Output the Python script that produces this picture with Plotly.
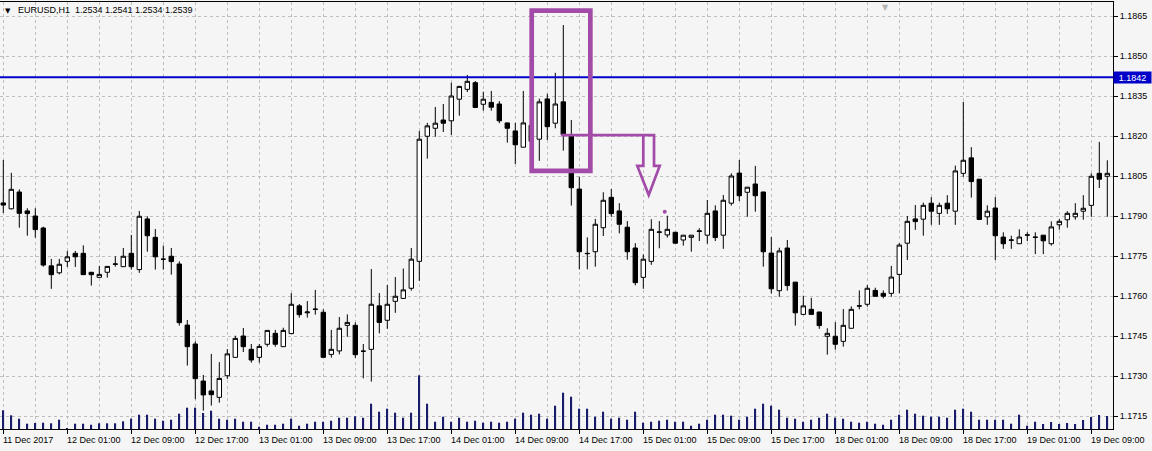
import plotly.graph_objects as go

# ---------------- data (EURUSD H1) ----------------
BAR_INDEX = list(range(139))

OPEN = [1.17949, 1.17927, 1.17990, 1.17919, 1.17900, 1.17855, 1.17713, 1.17687, 1.17730, 1.17760,
        1.17760, 1.17689, 1.17670, 1.17689, 1.17719, 1.17710, 1.17760, 1.17699, 1.17889, 1.17820,
        1.17738, 1.17749, 1.17720, 1.17491, 1.17420, 1.17281, 1.17244, 1.17220, 1.17301, 1.17370,
        1.17450, 1.17400, 1.17370, 1.17419, 1.17460, 1.17410, 1.17459, 1.17563, 1.17537, 1.17551,
        1.17539, 1.17381, 1.17394, 1.17490, 1.17490, 1.17393, 1.17400, 1.17563, 1.17509, 1.17580,
        1.17591, 1.17629, 1.17730, 1.18199, 1.18229, 1.18260, 1.18257, 1.18338, 1.18375, 1.18400,
        1.18319, 1.18326, 1.18320, 1.18249, 1.18219, 1.18158, 1.18240, 1.18188, 1.18339, 1.18248,
        1.18328, 1.18204, 1.18001, 1.17760, 1.17766, 1.17856, 1.17970, 1.17919, 1.17858, 1.17780,
        1.17670, 1.17730, 1.17839, 1.17829, 1.17839, 1.17810, 1.17820, 1.17842, 1.17828, 1.17919,
        1.17828, 1.17948, 1.18061, 1.17989, 1.18020, 1.17990, 1.17761, 1.17620, 1.17780, 1.17652,
        1.17531, 1.17550, 1.17540, 1.17449, 1.17449, 1.17430, 1.17479, 1.17562, 1.17569, 1.17621,
        1.17610, 1.17610, 1.17681, 1.17798, 1.17889, 1.17888, 1.17948, 1.17910, 1.17948, 1.17918,
        1.18060, 1.18118, 1.18038, 1.17897, 1.17930, 1.17821, 1.17809, 1.17796, 1.17828, 1.17821,
        1.17828, 1.17796, 1.17867, 1.17886, 1.17897, 1.17918, 1.17940, 1.18060, 1.18049]

HIGH = [1.18110, 1.18062, 1.18000, 1.17929, 1.17929, 1.17860, 1.17739, 1.17739, 1.17769, 1.17769,
        1.17790, 1.17690, 1.17713, 1.17711, 1.17749, 1.17780, 1.17829, 1.17919, 1.17899, 1.17851,
        1.17789, 1.17780, 1.17730, 1.17510, 1.17430, 1.17304, 1.17383, 1.17352, 1.17401, 1.17451,
        1.17480, 1.17420, 1.17420, 1.17471, 1.17473, 1.17481, 1.17611, 1.17570, 1.17581, 1.17623,
        1.17550, 1.17473, 1.17521, 1.17531, 1.17501, 1.17420, 1.17701, 1.17611, 1.17641, 1.17671,
        1.17703, 1.17780, 1.18219, 1.18249, 1.18309, 1.18320, 1.18400, 1.18388, 1.18429, 1.18406,
        1.18366, 1.18369, 1.18331, 1.18250, 1.18249, 1.18369, 1.18270, 1.18340, 1.18358, 1.18437,
        1.18616, 1.18260, 1.18047, 1.17820, 1.17889, 1.17989, 1.18001, 1.17948, 1.17881, 1.17798,
        1.17756, 1.17888, 1.17881, 1.17901, 1.17840, 1.17828, 1.17828, 1.17854, 1.17960, 1.17940,
        1.17979, 1.18060, 1.18110, 1.18008, 1.18088, 1.17991, 1.17821, 1.17781, 1.17810, 1.17653,
        1.17601, 1.17593, 1.17541, 1.17479, 1.17502, 1.17551, 1.17561, 1.17621, 1.17641, 1.17631,
        1.17621, 1.17713, 1.17798, 1.17900, 1.17941, 1.17950, 1.17971, 1.17950, 1.17978, 1.18089,
        1.18328, 1.18158, 1.18039, 1.17940, 1.17971, 1.17839, 1.17826, 1.17850, 1.17839, 1.17839,
        1.17829, 1.17880, 1.17888, 1.17918, 1.17948, 1.17978, 1.18060, 1.18178, 1.18109]

LOW = [1.17911, 1.17925, 1.17856, 1.17826, 1.17819, 1.17710, 1.17627, 1.17681, 1.17709, 1.17709,
       1.17679, 1.17639, 1.17669, 1.17669, 1.17710, 1.17709, 1.17699, 1.17687, 1.17766, 1.17699,
       1.17699, 1.17680, 1.17489, 1.17339, 1.17213, 1.17170, 1.17189, 1.17200, 1.17289, 1.17369,
       1.17390, 1.17350, 1.17350, 1.17410, 1.17410, 1.17409, 1.17458, 1.17519, 1.17519, 1.17530,
       1.17369, 1.17369, 1.17381, 1.17447, 1.17368, 1.17291, 1.17279, 1.17460, 1.17477, 1.17537,
       1.17590, 1.17620, 1.17657, 1.18115, 1.18197, 1.18215, 1.18204, 1.18276, 1.18365, 1.18306,
       1.18295, 1.18295, 1.18248, 1.18175, 1.18095, 1.18157, 1.18140, 1.18107, 1.18185, 1.18229,
       1.18145, 1.17939, 1.17700, 1.17700, 1.17710, 1.17825, 1.17897, 1.17835, 1.17736, 1.17640,
       1.17627, 1.17717, 1.17779, 1.17819, 1.17797, 1.17789, 1.17766, 1.17806, 1.17796, 1.17806,
       1.17777, 1.17939, 1.17956, 1.17897, 1.17916, 1.17710, 1.17609, 1.17597, 1.17620, 1.17489,
       1.17530, 1.17530, 1.17477, 1.17380, 1.17399, 1.17410, 1.17478, 1.17550, 1.17560, 1.17598,
       1.17591, 1.17597, 1.17610, 1.17735, 1.17848, 1.17826, 1.17867, 1.17867, 1.17908, 1.17867,
       1.18047, 1.17969, 1.17886, 1.17867, 1.17735, 1.17777, 1.17777, 1.17795, 1.17806, 1.17757,
       1.17757, 1.17789, 1.17849, 1.17856, 1.17886, 1.17886, 1.17897, 1.18005, 1.17897]

CLOSE = [1.17941, 1.18000, 1.17910, 1.17909, 1.17849, 1.17716, 1.17680, 1.17719, 1.17747, 1.17747,
         1.17680, 1.17680, 1.17681, 1.17711, 1.17720, 1.17749, 1.17710, 1.17899, 1.17826, 1.17747,
         1.17738, 1.17729, 1.17500, 1.17410, 1.17290, 1.17229, 1.17230, 1.17291, 1.17383, 1.17441,
         1.17410, 1.17360, 1.17411, 1.17471, 1.17419, 1.17471, 1.17569, 1.17530, 1.17540, 1.17550,
         1.17370, 1.17400, 1.17479, 1.17501, 1.17380, 1.17393, 1.17569, 1.17501, 1.17569, 1.17599,
         1.17623, 1.17738, 1.18188, 1.18238, 1.18248, 1.18248, 1.18350, 1.18386, 1.18405, 1.18307,
         1.18338, 1.18308, 1.18257, 1.18229, 1.18167, 1.18249, 1.18180, 1.18328, 1.18235, 1.18320,
         1.18204, 1.18006, 1.17766, 1.17759, 1.17869, 1.17959, 1.17909, 1.17869, 1.17766, 1.17650,
         1.17738, 1.17850, 1.17840, 1.17850, 1.17798, 1.17828, 1.17828, 1.17844, 1.17910, 1.17819,
         1.17959, 1.18050, 1.17976, 1.18008, 1.17976, 1.17766, 1.17627, 1.17769, 1.17639, 1.17537,
         1.17563, 1.17531, 1.17489, 1.17460, 1.17419, 1.17490, 1.17550, 1.17563, 1.17629, 1.17599,
         1.17599, 1.17671, 1.17791, 1.17880, 1.17879, 1.17940, 1.17918, 1.17940, 1.17927, 1.18069,
         1.18109, 1.18029, 1.17887, 1.17918, 1.17826, 1.17796, 1.17810, 1.17821, 1.17829, 1.17820,
         1.17807, 1.17859, 1.17880, 1.17910, 1.17910, 1.17929, 1.18049, 1.18038, 1.18060]

VOLUME = [1122, 822, 618, 318, 360, 378, 342, 558, 60, 318,
          318, 258, 342, 342, 342, 462, 618, 858, 858, 618,
          498, 558, 918, 1278, 1278, 960, 1098, 618, 558, 618,
          438, 438, 138, 258, 258, 318, 618, 198, 318, 438,
          438, 498, 678, 678, 762, 678, 1518, 1038, 1218, 978,
          678, 978, 3222, 1518, 438, 738, 438, 678, 438, 498,
          378, 438, 378, 438, 618, 978, 858, 918, 618, 1398,
          2178, 1938, 1218, 1218, 738, 1038, 618, 678, 558, 1038,
          378, 438, 498, 558, 438, 438, 198, 318, 558, 858,
          858, 798, 558, 738, 1218, 1518, 1398, 1158, 678, 618,
          438, 558, 678, 918, 678, 618, 438, 378, 438, 318,
          258, 558, 858, 1158, 918, 798, 738, 738, 678, 1158,
          1218, 1038, 558, 558, 558, 558, 318, 858, 198, 438,
          300, 420, 300, 360, 300, 540, 720, 840, 780]

TIME_LABELS = ["11 Dec 2017", "12 Dec 01:00", "12 Dec 09:00", "12 Dec 17:00", "13 Dec 01:00",
               "13 Dec 09:00", "13 Dec 17:00", "14 Dec 01:00", "14 Dec 09:00", "14 Dec 17:00",
               "15 Dec 01:00", "15 Dec 09:00", "15 Dec 17:00", "18 Dec 01:00", "18 Dec 09:00",
               "18 Dec 17:00", "19 Dec 01:00", "19 Dec 09:00"]
TIME_LABEL_BARS = [0, 8, 16, 24, 32, 40, 48, 56, 64, 72, 80, 88, 96, 104, 112, 120, 128, 136]

PRICE_TICKS = [1.1715, 1.1730, 1.1745, 1.1760, 1.1775, 1.1790, 1.1805, 1.1820, 1.1835, 1.1850, 1.1865]

HLINE_LEVEL = 1.1842
TITLE = "EURUSD,H1\u00a0\u00a01.2534 1.2541 1.2534 1.2539"

# annotation drawing (in bar-index / price coordinates)
BOX_X = [66.05, 73.38]
BOX_Y = [1.18069, 1.18670]
ARROW_X = [69.71, 81.34, 81.34, 82.05, 80.68, 79.25, 80.0, 80.0]
ARROW_Y = [1.18203, 1.18203, 1.18088, 1.18088, 1.17979, 1.18088, 1.18088, 1.18203]
DOT_X = [82.68]
DOT_Y = [1.17916]
SHIFT_MARK_BAR = 110.3   # chart-shift marker at top

# ---------------- styling ----------------
BG = "#F5F5F5"
GRID = "#BEBEBE"
PURPLE = "#A24BA8"
BLUE = "#0000C8"
VOLCOL = "#1B1B6B"
FONT = "Liberation Sans"

X_RANGE = [-0.4125, 138.7125]
Y_RANGE = [1.1710125, 1.187025]
VOL_RANGE = [0, 427 * 60]

fig = go.Figure()

fig.add_trace(go.Bar(
    x=BAR_INDEX, y=VOLUME, yaxis="y2", width=0.2,
    marker=dict(color=VOLCOL, line=dict(width=0)), hoverinfo="skip", showlegend=False))

fig.add_trace(go.Candlestick(
    x=BAR_INDEX, open=OPEN, high=HIGH, low=LOW, close=CLOSE,
    increasing=dict(line=dict(color="black", width=1), fillcolor="white"),
    decreasing=dict(line=dict(color="black", width=1), fillcolor="black"),
    whiskerwidth=0, showlegend=False))

fig.add_trace(go.Scatter(
    x=DOT_X, y=DOT_Y, mode="markers",
    marker=dict(color=PURPLE, size=4), hoverinfo="skip", showlegend=False))

# horizontal price line
fig.add_shape(type="line", xref="paper", x0=0, x1=1, yref="y", y0=HLINE_LEVEL, y1=HLINE_LEVEL,
              line=dict(color=BLUE, width=2))

# purple rectangle
fig.add_shape(type="rect", xref="x", yref="y", x0=BOX_X[0], x1=BOX_X[1], y0=BOX_Y[0], y1=BOX_Y[1],
              line=dict(color=PURPLE, width=4.7), fillcolor="rgba(0,0,0,0)")

# purple arrow outline
path = "M " + " L ".join(f"{x},{y}" for x, y in zip(ARROW_X, ARROW_Y))
fig.add_shape(type="path", xref="x", yref="y", path=path,
              line=dict(color=PURPLE, width=2.7))

# time labels (left aligned at tick)
for b, lab in zip(TIME_LABEL_BARS, TIME_LABELS):
    fig.add_annotation(x=b, y=0, xref="x", yref="paper", text=lab, showarrow=False,
                       xanchor="left", yanchor="top", yshift=-4, xshift=-2,
                       font=dict(family=FONT, size=9, color="black"))

# title
fig.add_annotation(x=0, y=1, xref="paper", yref="paper", text="\u25bc", showarrow=False,
                   xanchor="left", yanchor="top", xshift=3, yshift=-3,
                   font=dict(family="DejaVu Sans", size=7, color="black"))
fig.add_annotation(x=0, y=1, xref="paper", yref="paper", text=TITLE, showarrow=False,
                   xanchor="left", yanchor="top", xshift=16, yshift=-1,
                   font=dict(family=FONT, size=9, color="black"))

# chart shift marker
fig.add_annotation(x=SHIFT_MARK_BAR, y=1, xref="x", yref="paper", text="\u25bc", showarrow=False,
                   xanchor="center", yanchor="top", yshift=1,
                   font=dict(family="DejaVu Sans", size=8, color="#B4B4B4"))

# price line label
fig.add_annotation(x=1, y=HLINE_LEVEL, xref="paper", yref="y", text=f"{HLINE_LEVEL:.4f}",
                   showarrow=False, xanchor="left", yanchor="middle", xshift=0,
                   bgcolor=BLUE, borderpad=1, width=35, height=9, align="center",
                   font=dict(family=FONT, size=9, color="white"))

fig.update_layout(
    width=1152, height=451,
    margin=dict(l=0, r=39, t=2, b=22),
    paper_bgcolor=BG, plot_bgcolor=BG,
    boxgap=0.45, boxgroupgap=0,
    xaxis=dict(range=X_RANGE, tick0=0, dtick=8, ticks="outside", ticklen=4, tickcolor="black",
               showticklabels=False, showgrid=True, gridcolor=GRID, griddash="3px,3px", gridwidth=1,
               minor=dict(tick0=0, dtick=4, showgrid=True, gridcolor=GRID, griddash="3px,3px",
                          ticklen=0),
               showline=True, linecolor="black", linewidth=1, mirror=True, zeroline=False,
               rangeslider=dict(visible=False), fixedrange=True),
    yaxis=dict(range=Y_RANGE, side="right", tickvals=PRICE_TICKS,
               ticktext=[f"{v:.4f}" for v in PRICE_TICKS],
               ticks="outside", ticklen=4, tickcolor="black",
               tickfont=dict(family=FONT, size=9, color="black"),
               showgrid=True, gridcolor=GRID, griddash="3px,3px", gridwidth=1,
               showline=True, linecolor="black", linewidth=1, zeroline=False),
    yaxis2=dict(range=VOL_RANGE, overlaying="y", visible=False, fixedrange=True),
    showlegend=False,
)

fig.write_html("out.html", config={"displayModeBar": False},
               post_script="document.body.style.margin='0px';document.body.style.overflow='hidden';")
